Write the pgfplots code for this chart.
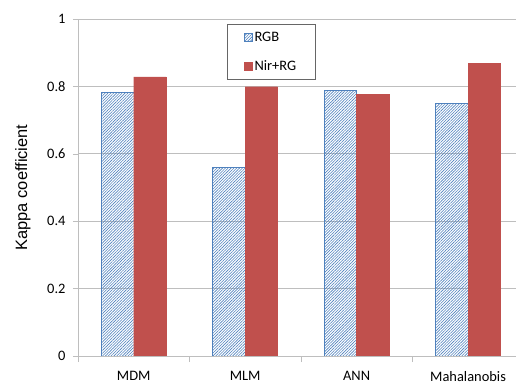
\documentclass[border=0pt]{standalone}
\usepackage{pgfplots}
\pgfplotsset{compat=1.18}
\usetikzlibrary{patterns.meta}
\usepackage{fontspec}
\setmainfont{Carlito}
\newfontfamily\arialfont{Liberation Sans}
\definecolor{rgbblue}{RGB}{79,129,189}
\definecolor{nirred}{RGB}{192,80,77}
\definecolor{gridgray}{RGB}{190,190,190}
\begin{document}
\begin{tikzpicture}
\useasboundingbox (-78bp,-29bp) rectangle (438bp,356bp);
\begin{axis}[
  at={(0,0)}, anchor=south west,
  scale only axis, width=438bp, height=337bp,
  /pgf/number format/assume math mode=true,
  font=\fontsize{14.5}{16}\selectfont,
  ybar=0pt, bar width=32.5bp,
  xmin=-0.5, xmax=3.43,
  ymin=0, ymax=1,
  xtick={0,1,2,3},
  xticklabels={MDM,MLM,ANN,Mahalanobis},
  minor xtick={-0.5,0.5,1.5,2.5,3.5},
  major x tick style={draw=none},
  minor x tick style={draw=gridgray},
  ytick={0,0.2,0.4,0.6,0.8,1},
  yticklabels={0,0.2,0.4,0.6,0.8,1},
  tick align=outside,
  major tick length=5bp, minor tick length=6bp,
  y tick style={draw=gridgray},
  axis x line*=bottom, axis y line*=left,
  axis line style={draw=gridgray, -},
  ymajorgrids, grid style={draw=gridgray, line width=0.6pt},
  xticklabel style={yshift=-7bp},
  yticklabel style={xshift=-4bp},
  ylabel={\arialfont\fontsize{16.5}{18}\selectfont Kappa coefficient},
  ylabel style={at={(axis description cs:-0.1256,0.5)}, anchor=center},
  legend style={at={(axis description cs:0.340,0.985)}, anchor=north west,
    draw=black!60, inner xsep=17bp, inner ysep=6bp, row sep=13bp,
    font=\fontsize{14.5}{16}\selectfont, cells={anchor=west}},
  legend image code/.code={\draw[#1] (0bp,-4bp) rectangle (8bp,4bp);},
]
\addplot[draw=rgbblue, pattern={Lines[angle=45,distance=2bp,line width=0.6bp]}, pattern color=rgbblue]
  coordinates {(0,0.782) (1,0.560) (2,0.789) (3,0.749)};
\addplot[draw=nirred, fill=nirred]
  coordinates {(0,0.828) (1,0.799) (2,0.777) (3,0.869)};
\legend{RGB,Nir+RG}
\end{axis}
\end{tikzpicture}
\end{document}
